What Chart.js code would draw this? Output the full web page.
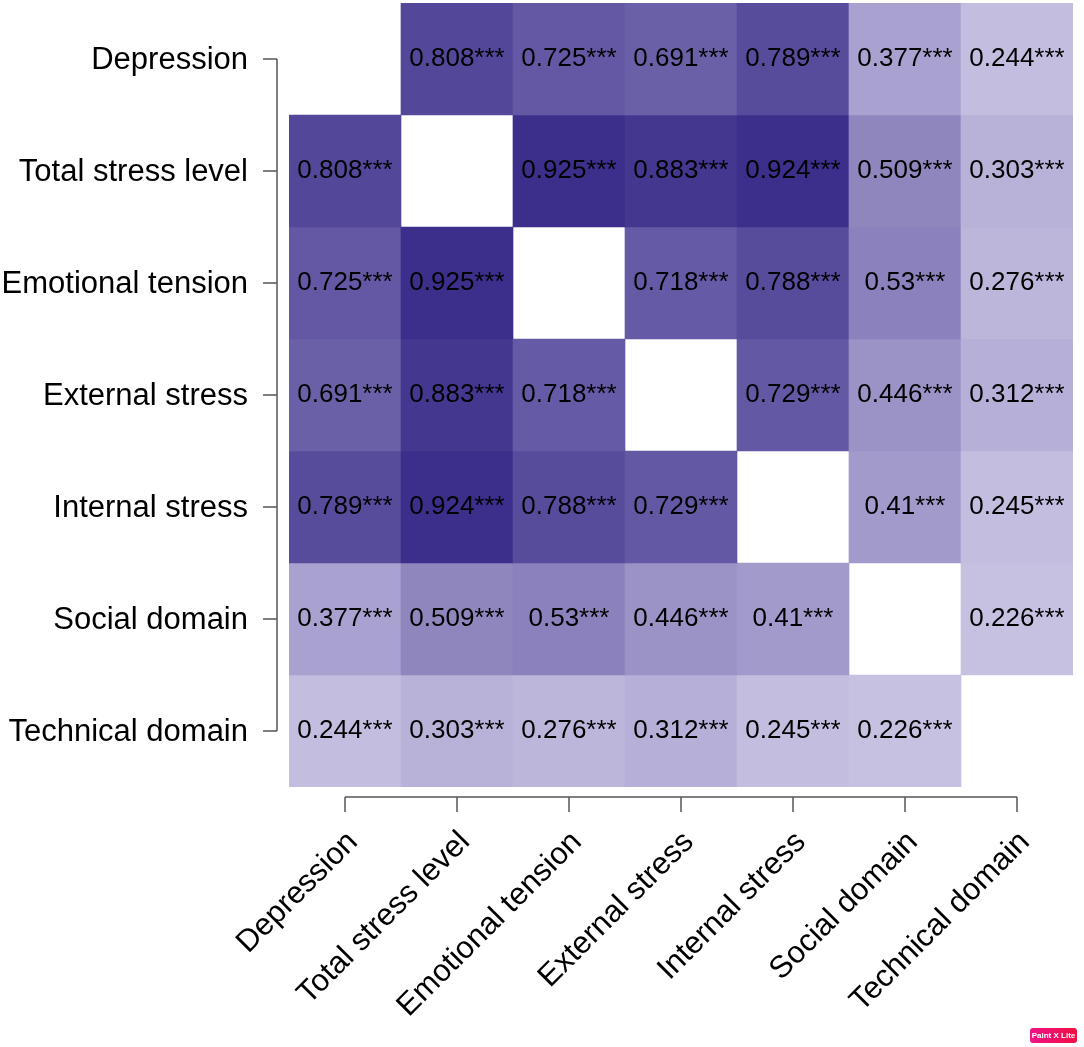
<!DOCTYPE html>
<html>
<head>
<meta charset="utf-8">
<script src="https://cdn.jsdelivr.net/npm/chart.js@4/dist/chart.umd.min.js"></script>
<style>
  html, body { margin: 0; padding: 0; background: #fff; }
  #wrap { position: relative; width: 1084px; height: 1047px; }
  #badge { position: absolute; left: 1030px; top: 1028px; width: 47px; height: 15px; border-radius: 3px;
    background: linear-gradient(90deg, #f0128a, #f01040); color: #fff; font: bold 8px "Liberation Sans", Arial, sans-serif;
    line-height: 15px; text-align: center; }
</style>
</head>
<body>
<div id="wrap">
<canvas id="c" width="1084" height="1047"></canvas>
<div id="badge">Paint X Lite</div>
</div>
<script>
// ---- data ----
const categories = ["Depression", "Total stress level", "Emotional tension", "External stress", "Internal stress", "Social domain", "Technical domain"];
const depression      = [null, 0.808, 0.725, 0.691, 0.789, 0.377, 0.244];
const totalStress     = [0.808, null, 0.925, 0.883, 0.924, 0.509, 0.303];
const emotionalTension= [0.725, 0.925, null, 0.718, 0.788, 0.53, 0.276];
const externalStress  = [0.691, 0.883, 0.718, null, 0.729, 0.446, 0.312];
const internalStress  = [0.789, 0.924, 0.788, 0.729, null, 0.41, 0.245];
const socialDomain    = [0.377, 0.509, 0.53, 0.446, 0.41, null, 0.226];
const technicalDomain = [0.244, 0.303, 0.276, 0.312, 0.245, 0.226, null];
const significance = "***";
const rows = [depression, totalStress, emotionalTension, externalStress, internalStress, socialDomain, technicalDomain];

function cellColor(v) {
  const r = Math.round(244 - 199 * v);
  const g = Math.round(240 - 209 * v);
  const b = Math.round(253 - 123 * v);
  return `rgb(${r},${g},${b})`;
}

const FONT = '"Liberation Sans", Arial, Helvetica, sans-serif';

const cellText = {
  id: 'cellText',
  afterDatasetsDraw(chart) {
    const ctx = chart.ctx;
    ctx.save();
    ctx.font = `26px ${FONT}`;
    ctx.fillStyle = '#000';
    ctx.textAlign = 'center';
    ctx.textBaseline = 'middle';
    chart.data.datasets.forEach((ds, di) => {
      const meta = chart.getDatasetMeta(di);
      meta.data.forEach((el, ci) => {
        const v = rows[di][ci];
        if (v === null) return;
        ctx.fillText(String(v) + significance, el.x, (el.y + el.base) / 2);
      });
    });
    ctx.restore();
  }
};

const rAxes = {
  id: 'rAxes',
  afterDraw(chart) {
    const ctx = chart.ctx;
    const xs = chart.scales.x, ys = chart.scales.y, ca = chart.chartArea;
    ctx.save();
    ctx.strokeStyle = '#555';
    ctx.lineWidth = 1.5;
    // left axis
    const ax = ca.left - 12;
    const y0 = ys.getPixelForValue(0), y6 = ys.getPixelForValue(categories.length - 1);
    ctx.beginPath();
    ctx.moveTo(ax, y0); ctx.lineTo(ax, y6);
    for (let i = 0; i < categories.length; i++) {
      const y = ys.getPixelForValue(i);
      ctx.moveTo(ax, y); ctx.lineTo(ax - 14, y);
    }
    ctx.stroke();
    // bottom axis
    const ay = ca.bottom + 10;
    const x0 = xs.getPixelForValue(0), x6 = xs.getPixelForValue(categories.length - 1);
    ctx.beginPath();
    ctx.moveTo(x0, ay); ctx.lineTo(x6, ay);
    for (let i = 0; i < categories.length; i++) {
      const x = xs.getPixelForValue(i);
      ctx.moveTo(x, ay); ctx.lineTo(x, ay + 15);
    }
    ctx.stroke();
    ctx.restore();
  }
};

function noPad(scale) {
  scale.paddingTop = 0; scale.paddingBottom = 0;
  scale.paddingLeft = 0; scale.paddingRight = 0;
}

new Chart(document.getElementById('c'), {
  type: 'bar',
  data: {
    labels: categories,
    datasets: rows.map((vals, r) => ({
      label: categories[r],
      data: vals.map(v => v === null ? null : [r - 0.5, r + 0.5]),
      backgroundColor: vals.map(v => v === null ? 'rgba(0,0,0,0)' : cellColor(v)),
      borderWidth: 0,
      barPercentage: 1,
      categoryPercentage: 1,
      grouped: false
    }))
  },
  options: {
    responsive: false,
    animation: false,
    devicePixelRatio: 1,
    layout: { padding: { left: 0, top: 3, right: 11, bottom: 0 } },
    plugins: { legend: { display: false }, tooltip: { enabled: false } },
    scales: {
      x: {
        type: 'category',
        grid: { display: false, drawTicks: false },
        border: { display: false },
        ticks: {
          color: '#000',
          font: { family: FONT, size: 31 },
          maxRotation: 45, minRotation: 45,
          padding: 37,
          labelOffset: 8,
          autoSkip: false
        },
        afterFit(scale) { scale.height = 260; noPad(scale); }
      },
      y: {
        type: 'linear',
        min: -0.5, max: 6.5,
        reverse: true,
        grid: { display: false, drawTicks: false },
        border: { display: false },
        afterBuildTicks(scale) { scale.ticks = categories.map((_, i) => ({ value: i })); },
        ticks: {
          color: '#000',
          font: { family: FONT, size: 31 },
          padding: 41,
          labelOffset: 1,
          callback: (v) => categories[v]
        },
        afterFit(scale) { scale.width = 289; noPad(scale); }
      }
    }
  },
  plugins: [cellText, rAxes]
});
</script>
</body>
</html>
